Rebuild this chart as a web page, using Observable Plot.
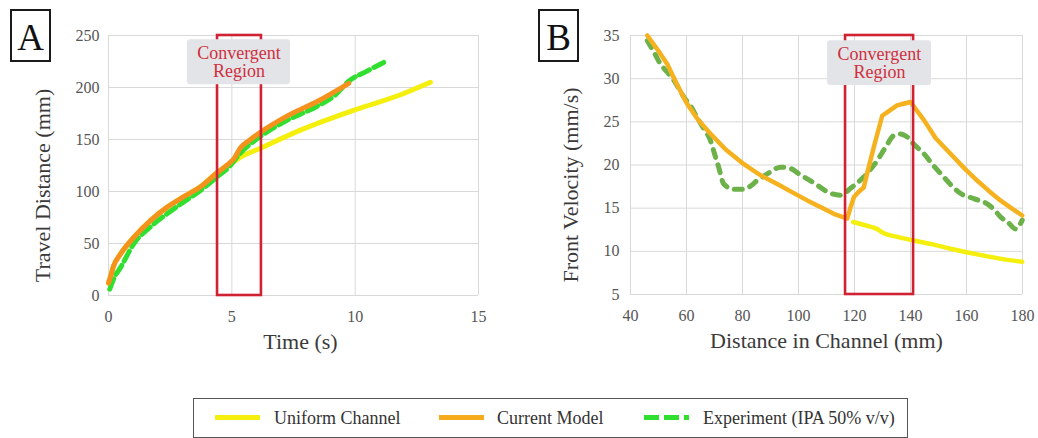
<!DOCTYPE html>
<html><head><meta charset="utf-8">
<script src="https://cdn.jsdelivr.net/npm/d3@7"></script>
<script src="https://cdn.jsdelivr.net/npm/@observablehq/plot@0.6"></script>
<style>
body{margin:0;background:#fff;font-family:"Liberation Serif","Times New Roman",serif;}
#wrap{position:relative;width:1038px;height:438px;overflow:hidden;background:#fff}
.panel{position:absolute;top:0}
.panel svg text{font-family:"Liberation Serif","Times New Roman",serif !important;}
.tag{position:absolute;border:2.5px solid #1a1a1a;box-sizing:border-box;font-size:37px;line-height:1;display:flex;align-items:center;justify-content:center;color:#111;padding-top:3px}
#legend{position:absolute;left:193px;top:398px;width:715px;height:40px;border:1.5px solid #555;box-sizing:border-box}
.li{position:absolute;top:0;height:100%;display:flex;align-items:center;font-size:18px;color:#333;white-space:nowrap}
.sw{position:absolute;top:0;height:100%}
</style></head>
<body><div id="wrap">
<div id="panelA" class="panel" style="left:0"></div>
<div id="panelB" class="panel" style="left:520px"></div>
<div class="tag" style="left:10px;top:9px;width:41px;height:53px">A</div>
<div class="tag" style="left:538px;top:9px;width:41px;height:53px">B</div>
<div id="legend"></div>
</div>
<script>
// ---------- Panel A data: Travel distance (mm) vs time (s) ----------
const modelA_t = [0, 0.08, 0.2, 0.49, 1.03, 1.7, 2.38, 3.05, 3.73, 4.4, 4.81, 5.1, 5.35, 5.7, 6.16, 7.2, 8.5, 9.74];
const modelA_d = [12, 18, 28, 40, 56, 72, 85, 95, 104.5, 118, 125.5, 132, 142, 149, 157, 172, 187, 204];
const uniformA_t = [0, 0.08, 0.2, 0.49, 1.03, 1.7, 2.38, 3.05, 3.73, 4.4, 5.08, 5.35, 6.16, 7.78, 10, 11.84, 13.05];
const uniformA_d = [12, 18, 28, 40, 56, 72, 85, 95, 104.5, 118, 128.7, 133, 141.6, 159, 178.6, 193, 205];
const expA_t = [0.05, 0.25, 0.49, 1.03, 1.7, 2.4, 3.05, 3.73, 4.4, 4.9, 5.35, 6.16, 7.2, 8.46, 9.2, 9.74, 10.5, 11.23];
const expA_d = [6, 18, 27, 50, 66, 79, 90, 101, 114, 124, 137, 153, 168, 182, 193, 206, 216, 225];
const ticksA_x = [0, 5, 10, 15];
const ticksA_y = [0, 50, 100, 150, 200, 250];

// ---------- Panel B data: Front velocity (mm/s) vs distance (mm) ----------
const modelB_x = [46, 50, 53.1, 56.5, 60.2, 64, 68.6, 74, 80.5, 86, 92.4, 98, 103.1, 108, 112.6, 117.4, 118.5, 119.8, 121.5, 123.3, 124.5, 127, 129.9, 132.5, 135.2, 137.5, 140, 144.8, 149, 154.3, 159, 163.8, 168, 172.1, 176, 179.9];
const modelB_v = [35, 33.2, 31.7, 29.4, 27.1, 25.3, 23.6, 21.8, 20.1, 18.9, 17.8, 16.8, 15.9, 15.1, 14.35, 13.8, 15, 16.3, 16.9, 17.4, 19, 22.2, 25.7, 26.3, 26.9, 27.1, 27.3, 25.2, 23.1, 21.3, 19.7, 18.2, 17, 15.9, 15, 14.15];
const uniformB_x = [119.5, 124, 128, 130.5, 135, 141.2, 148, 154.3, 160, 166.2, 173, 179.9];
const uniformB_v = [13.4, 13.0, 12.6, 12.1, 11.7, 11.25, 10.8, 10.3, 9.9, 9.5, 9.1, 8.8];
const expB_x = [46, 48.5, 50.7, 53, 55.5, 59, 61.5, 63.8, 66, 68.6, 70, 71.5, 73.3, 76.9, 80.5, 83, 85.2, 89, 93.6, 97.1, 100, 103.1, 107, 110.2, 115, 118.6, 120.5, 123.3, 125.5, 128.1, 131, 134, 136.4, 139, 141.2, 144.8, 148, 151.9, 155, 157.9, 162.6, 167.4, 170, 172.1, 175, 177.5, 179.9];
const expB_v = [34.4, 33, 31.7, 30.8, 29.8, 27.9, 26.8, 25.5, 24.3, 22.8, 21.3, 19.75, 17.8, 17.2, 17.2, 17.6, 18.2, 19.0, 19.75, 19.6, 19.0, 18.4, 17.6, 16.9, 16.5, 17.3, 17.8, 18.6, 19.4, 20.5, 22.0, 23.4, 23.6, 23.2, 22.4, 21.3, 20.0, 18.6, 17.5, 16.7, 16.1, 15.5, 14.8, 14.0, 13.3, 12.6, 13.6];
const ticksB_x = [40, 60, 80, 100, 120, 140, 160, 180];
const ticksB_y = [5, 10, 15, 20, 25, 30, 35];

// Convergent region bounds (data units)
const regionA = [4.42, 6.2];
const regionB = [116.8, 141.1];
const regionLabel = "Convergent\nRegion";

const seriesNames = ["Uniform Channel", "Current Model", "Experiment (IPA 50% v/v)"];

// ---------- styling ----------
const FONT = '"Liberation Serif","Times New Roman",serif';
const YELLOW = "#f4ef0c", ORANGE_A = "#f5921d", ORANGE_B = "#f6b21e", GREEN_A = "#30df30", GREEN_B = "#6cb14a";
const RED = "#cf2233", RED_TEXT = "#d0303f", GRID = "#d9d9d9", BOXFILL = "#e2e4e7";

const zip = (xs, ys) => xs.map((x, i) => ({x, y: ys[i]}));

function panel({width, margins, xDomain, yDomain, xTicks, yTicks, yPad, lines, region, labelBox, labelPos, xTitle, yTitle, xTitleDx, yTitleDx}) {
  return Plot.plot({
    width, height: 370,
    marginLeft: margins[0], marginRight: margins[1], marginTop: margins[2], marginBottom: margins[3],
    style: {fontFamily: FONT, fontSize: "16px", color: "#555", background: "transparent"},
    x: {domain: xDomain},
    y: {domain: yDomain},
    marks: [
      Plot.gridX(xTicks, {stroke: GRID, strokeOpacity: 1, strokeWidth: 1}),
      Plot.gridY(yTicks, {stroke: GRID, strokeOpacity: 1, strokeWidth: 1}),
      Plot.axisX({ticks: xTicks, tickSize: 0, tickPadding: 15, label: null, fill: "#555"}),
      Plot.axisY({ticks: yTicks, tickSize: 0, tickPadding: yPad, label: null, fill: "#555"}),
      ...lines,
      Plot.rect([{x1: region[0], x2: region[1], y1: yDomain[0], y2: yDomain[1]}],
        {x1: "x1", x2: "x2", y1: "y1", y2: "y2", fill: "none", stroke: RED, strokeWidth: 2.6}),
      Plot.rect([labelBox], {x1: "x1", x2: "x2", y1: "y1", y2: "y2", fill: BOXFILL, rx: 3}),
      Plot.text([labelPos], {x: "x", y: "y", text: () => regionLabel, fill: RED_TEXT, fontSize: 18, lineHeight: 1.0}),
      Plot.text([xTitle], {frameAnchor: "bottom", textAnchor: "middle", dy: 53, dx: xTitleDx, fontSize: 22, fill: "#3a3a3a"}),
      Plot.text([yTitle], {frameAnchor: "left", textAnchor: "middle", rotate: -90, dx: yTitleDx, dy: 20, fontSize: 22, fill: "#3a3a3a"})
    ]
  });
}

const chartA = panel({
  width: 520, margins: [108, 42, 35, 75],
  xDomain: [0, 15], yDomain: [0, 250], xTicks: ticksA_x, yTicks: ticksA_y, yPad: 9,
  lines: [
    Plot.line(zip(uniformA_t, uniformA_d), {x: "x", y: "y", stroke: YELLOW, strokeWidth: 5, curve: "monotone-x"}),
    Plot.line(zip(expA_t, expA_d), {x: "x", y: "y", stroke: GREEN_A, strokeWidth: 5, strokeDasharray: "11,5", curve: "monotone-x"}),
    Plot.line(zip(modelA_t, modelA_d), {x: "x", y: "y", stroke: ORANGE_A, strokeWidth: 5, curve: "monotone-x"})
  ],
  region: regionA,
  labelBox: {x1: 3.2, x2: 7.38, y1: 202.7, y2: 246},
  labelPos: {x: 5.29, y: 224.4},
  xTitle: "Time (s)", yTitle: "Travel Distance (mm)", xTitleDx: 7, yTitleDx: -66
});

const chartB = panel({
  width: 518, margins: [110, 16, 35, 76],
  xDomain: [40, 180], yDomain: [5, 35], xTicks: ticksB_x, yTicks: ticksB_y, yPad: 11,
  lines: [
    Plot.line(zip(uniformB_x, uniformB_v), {x: "x", y: "y", stroke: YELLOW, strokeWidth: 4.5, curve: "monotone-x"}),
    Plot.line(zip(expB_x, expB_v), {x: "x", y: "y", stroke: GREEN_B, strokeWidth: 5, strokeDasharray: "8,8", strokeLinecap: "round", curve: "monotone-x"}),
    Plot.line(zip(modelB_x, modelB_v), {x: "x", y: "y", stroke: ORANGE_B, strokeWidth: 4.5, strokeLinejoin: "round"})
  ],
  region: regionB,
  labelBox: {x1: 110.4, x2: 147.5, y1: 29.2, y2: 34.4},
  labelPos: {x: 128.9, y: 31.8},
  xTitle: "Distance in Channel (mm)", yTitle: "Front Velocity (mm/s)", xTitleDx: 0, yTitleDx: -60
});

document.getElementById("panelA").appendChild(chartA);
document.getElementById("panelB").appendChild(chartB);

// ---------- legend ----------
const legend = d3.select("#legend");
const items = [
  {name: seriesNames[0], color: YELLOW, dash: null, sx: 21, tx: 80},
  {name: seriesNames[1], color: "#f6ab1c", dash: null, sx: 245, tx: 303},
  {name: seriesNames[2], color: GREEN_A, dash: "15,5", sx: 450, tx: 509}
];
for (const it of items) {
  const svg = legend.append("svg").attr("class", "sw").attr("width", 45).attr("height", 37).style("left", it.sx + "px");
  svg.append("line").attr("x1", 0).attr("x2", 45).attr("y1", 18.5).attr("y2", 18.5)
    .attr("stroke", it.color).attr("stroke-width", 5).attr("stroke-dasharray", it.dash);
  legend.append("div").attr("class", "li").style("left", it.tx + "px").text(it.name);
}
</script>
</body></html>
